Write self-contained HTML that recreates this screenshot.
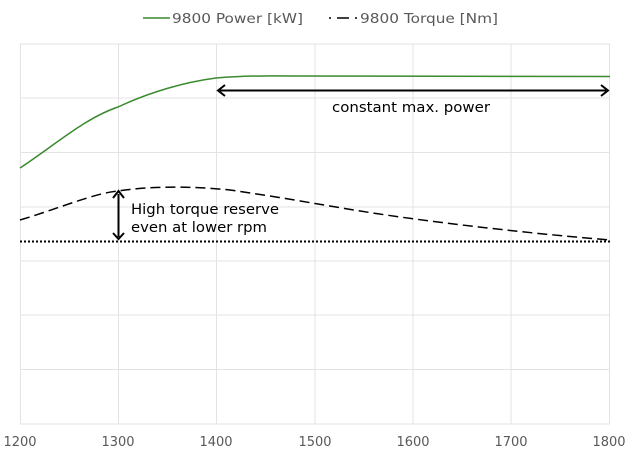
<!DOCTYPE html>
<html><head><style>
body{margin:0;background:#fff;}
svg{display:block;font-family:"DejaVu Sans","Liberation Sans",sans-serif;}
</style></head><body>
<svg width="630" height="456" viewBox="0 0 630 456">
<g stroke="#e3e3e3" stroke-width="1">
<line x1="20" y1="44" x2="610" y2="44"/><line x1="20" y1="98" x2="610" y2="98"/>
<line x1="20" y1="152.5" x2="610" y2="152.5"/><line x1="20" y1="207" x2="610" y2="207"/>
<line x1="20" y1="261" x2="610" y2="261"/><line x1="20" y1="315" x2="610" y2="315"/>
<line x1="20" y1="369.5" x2="610" y2="369.5"/><line x1="20" y1="424" x2="610" y2="424"/>
<line x1="20.5" y1="44" x2="20.5" y2="424"/><line x1="118.5" y1="44" x2="118.5" y2="424"/>
<line x1="216.5" y1="44" x2="216.5" y2="424"/><line x1="315" y1="44" x2="315" y2="424"/>
<line x1="413" y1="44" x2="413" y2="424"/><line x1="511" y1="44" x2="511" y2="424"/>
<line x1="609.5" y1="44" x2="609.5" y2="424"/>
</g>
<g font-size="13" fill="#595959" text-anchor="middle">
<text x="20" y="446">1200</text><text x="118" y="446">1300</text><text x="216" y="446">1400</text>
<text x="315" y="446">1500</text><text x="413" y="446">1600</text><text x="511" y="446">1700</text>
<text x="609" y="446">1800</text>
</g>
<line x1="143" y1="18" x2="170" y2="18" stroke="#3a8a2e" stroke-width="1.5"/>
<text x="172" y="23" font-size="13.5" fill="#595959" textLength="131" lengthAdjust="spacingAndGlyphs">9800 Power [kW]</text>
<line x1="329" y1="18" x2="357" y2="18" stroke="#000" stroke-width="1.5" stroke-dasharray="2,6,10,0"/>
<text x="360" y="23" font-size="13.5" fill="#595959" textLength="138" lengthAdjust="spacingAndGlyphs">9800 Torque [Nm]</text>
<path d="M20,168 C55,145 85,118 118,107 C150,92 185,82 216,78 C240,76 260,75.5 290,76 L610,76.5" fill="none" stroke="#3a8a2e" stroke-width="1.5"/>
<path d="M20,220 C60,208 95,193 118,191 C150,186 190,186 230,190 C300,200 330,207 400,217 C480,228 560,236 610,240" fill="none" stroke="#000" stroke-width="1.5" stroke-dasharray="10,5"/>
<line x1="20" y1="241.5" x2="610" y2="241.5" stroke="#000" stroke-width="2" stroke-dasharray="2,2"/>
<g stroke="#000" stroke-width="2" fill="none">
<line x1="220" y1="90.5" x2="606" y2="90.5"/>
<polyline points="225,85 218,90.5 225,96"/><polyline points="601,85 608,90.5 601,96"/>
<line x1="118.5" y1="194" x2="118.5" y2="237"/>
<polyline points="113,198 118.5,191 124,198"/><polyline points="113,233 118.5,239 124,233"/>
</g>
<text x="332" y="112" font-size="14" fill="#000" textLength="158" lengthAdjust="spacingAndGlyphs">constant max. power</text>
<text x="131" y="214" font-size="14.5" fill="#000" textLength="148" lengthAdjust="spacingAndGlyphs">High torque reserve</text>
<text x="131" y="232" font-size="14.5" fill="#000" textLength="136" lengthAdjust="spacingAndGlyphs">even at lower rpm</text>
</svg>
</body></html>
